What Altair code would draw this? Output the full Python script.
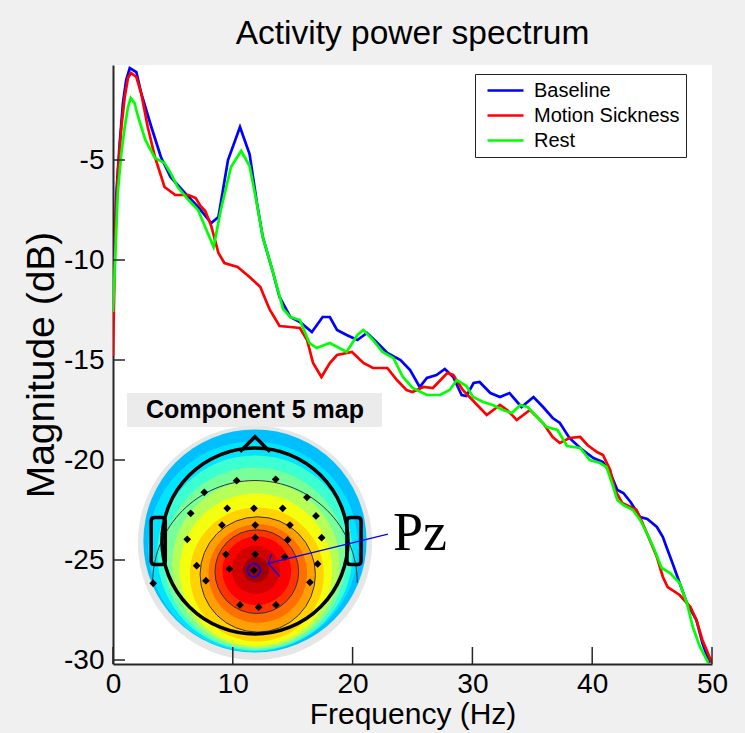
import altair as alt
import pandas as pd

# ---------------- chart values ----------------
TITLE = "Activity power spectrum"
X_TITLE = "Frequency (Hz)"
Y_TITLE = "Magnitude (dB)"
SERIES = ["Baseline", "Motion Sickness", "Rest"]
SERIES_COLORS = ["#0000ff", "#ff0000", "#00ff00"]
X_TICKS = [0, 10, 20, 30, 40, 50]
Y_TICKS = [-30, -25, -20, -15, -10, -5]

baseline_hz = [0, 0.28, 0.56, 0.83, 1.1, 1.4, 1.95, 2.35, 3.2, 4.0, 4.8, 6.0, 7.1, 8.2, 8.8,
               9.6, 10.6, 11.4, 12.0, 12.5, 13.3, 13.9, 14.8, 15.6, 16.6, 17.5, 18.1, 18.7,
               19.5, 20.4, 21.2, 22.0, 22.9, 24.0, 24.8, 25.6, 26.2, 27.0, 27.7, 28.4, 29.1,
               29.5, 30.1, 30.6, 31.5, 32.3, 33.1, 34.1, 35.1, 35.9, 36.7, 37.3, 38.1, 39.0,
               40.1, 40.9, 41.5, 42.1, 42.6, 43.2, 44.0, 44.6, 45.4, 45.9, 46.2, 46.7, 47.3,
               47.9, 48.7, 49.2, 49.8]
baseline_db = [-12.0, -6.65, -4.15, -2.15, -1.0, -0.4, -0.6, -1.65, -3.35, -4.85, -5.85, -6.65,
               -7.35, -8.15, -7.85, -5.0, -3.35, -4.7, -7.1, -8.85, -10.5, -11.85, -12.85, -13.1,
               -13.6, -12.85, -12.85, -13.5, -13.75, -14.0, -13.65, -14.1, -14.65, -15.0, -15.5,
               -16.35, -15.9, -15.75, -15.45, -15.85, -16.75, -16.8, -16.15, -16.1, -16.65,
               -16.85, -16.65, -17.35, -16.85, -17.35, -17.9, -18.15, -18.9, -19.4, -19.9,
               -20.1, -20.65, -21.5, -21.65, -22.1, -22.85, -22.95, -23.35, -23.85, -24.35,
               -25.15, -26.15, -27.15, -28.0, -29.15, -30.15]

motion_hz = [0, 0.2, 0.42, 0.7, 0.98, 1.25, 1.5, 1.95, 2.35, 2.9, 3.5, 4.3, 5.2, 6.3, 6.9, 7.3,
             7.7, 8.2, 8.8, 9.3, 10.4, 11.4, 12.3, 12.85, 13.1, 13.9, 14.8, 15.6, 16.2, 16.7,
             17.4, 18.1, 18.7, 19.95, 20.9, 21.7, 22.9, 23.7, 24.5, 25.0, 25.9, 26.7, 27.9,
             28.4, 29.2, 30.4, 31.2, 32.3, 32.9, 33.7, 34.8, 35.9, 36.7, 37.3, 38.1, 39.0,
             39.6, 40.4, 40.9, 41.5, 41.9, 42.5, 43.2, 43.7, 44.2, 44.7, 45.4, 45.9, 46.3,
             47.3, 48.2, 48.7, 49.2, 50.0]
motion_db = [-14.8, -8.35, -5.5, -3.35, -1.85, -0.9, -0.65, -0.85, -1.65, -3.35, -4.85, -6.35,
             -6.75, -6.75, -6.9, -7.3, -7.55, -8.3, -9.65, -10.15, -10.35, -10.85, -11.35,
             -12.15, -12.5, -13.3, -13.35, -13.4, -14.0, -15.15, -15.85, -15.15, -14.75, -14.6,
             -15.15, -15.4, -15.4, -16.0, -16.5, -16.6, -16.35, -16.4, -15.65, -15.75, -16.5,
             -17.25, -17.75, -17.25, -17.5, -18.0, -17.5, -18.15, -18.85, -19.15, -18.9,
             -18.85, -19.25, -19.6, -19.75, -20.5, -21.5, -22.15, -22.35, -22.5, -23.15,
             -23.85, -24.85, -25.85, -26.35, -26.75, -27.35, -28.0, -29.0, -30.15]

rest_hz = [0, 0.4, 0.7, 0.98, 1.25, 1.48, 1.8, 2.1, 2.7, 3.5, 4.3, 4.8, 5.4, 6.3, 7.1, 7.8, 8.4,
           9.0, 9.85, 10.7, 11.4, 12.0, 12.5, 13.3, 14.2, 14.8, 15.6, 16.4, 17.0, 18.1, 19.5,
           20.4, 20.9, 21.7, 22.5, 23.4, 24.2, 25.0, 26.2, 27.3, 28.1, 28.7, 29.5, 30.05,
           30.9, 31.7, 32.55, 33.3, 34.0, 34.6, 35.4, 36.2, 37.1, 37.9, 39.0, 39.8, 40.65,
           41.2, 41.65, 42.1, 42.6, 43.4, 44.0, 44.6, 45.1, 45.8, 46.5, 47.3, 47.9, 48.4,
           49.0, 49.7]
rest_db = [-12.6, -6.65, -4.65, -3.35, -2.35, -1.9, -2.15, -2.85, -4.0, -4.9, -5.15, -5.65,
           -6.35, -7.0, -7.5, -8.5, -9.35, -7.5, -5.35, -4.55, -5.3, -7.15, -8.85, -10.5,
           -12.45, -12.85, -13.0, -14.15, -14.4, -14.15, -14.6, -13.75, -13.5, -14.0, -14.6,
           -14.9, -15.85, -16.4, -16.75, -16.75, -16.5, -16.0, -16.3, -16.85, -17.1, -17.25,
           -17.5, -17.65, -17.25, -17.35, -17.85, -18.35, -18.5, -19.3, -19.4, -20.0, -20.15,
           -20.35, -21.15, -22.0, -22.25, -22.5, -23.0, -23.7, -24.35, -25.4, -25.65, -26.15,
           -27.15, -28.35, -29.35, -30.15]

# ---- inset "Component 5 map" (scalp map image), in head-radius units ----
INSET_TITLE = "Component 5 map"
INSET_LABEL = "Pz"
# colour bands of the scalp map: offset (dx, dy; dy positive = down), radius, colour
map_dx = [0, 0, -0.02, 0, 0, 0.01, 0.01, 0.02, 0.03, 0.03, 0.02, 0.02, 0.01, 0.01]
map_dy = [0.02, 0, 0.06, 0.13, 0.19, 0.25, 0.31, 0.36, 0.36, 0.35, 0.33, 0.32, 0.31, 0.31]
map_r = [1.26, 1.20, 1.13, 1.05, 0.98, 0.90, 0.82, 0.72, 0.62, 0.53, 0.45, 0.37, 0.26, 0.14]
map_col = ["#e6e6e6", "#00bfff", "#00e4ff", "#3cffd2", "#78ff9a", "#b4ff5a", "#f4ff10",
           "#ffd200", "#ffa000", "#ff6e00", "#ff3200", "#ff0000", "#d20000", "#a00000"]
# electrode positions
elec_dx = [-0.197, 0.223, -0.545, 0.559, -0.691, -0.298, -0.011, 0.298, 0.656, -0.355, 0.003,
           0.376, -0.728, 0.003, 0.352, 0.717, -0.312, 0.003, 0.32, -0.627, -0.276, -0.011,
           0.674, -0.527, 0.591, -1.094, -0.161, 0.040, 0.226]
elec_dy = [-0.648, -0.663, -0.524, -0.470, -0.298, -0.352, -0.352, -0.352, -0.269, -0.172,
           -0.172, -0.172, -0.018, -0.035, -0.011, -0.035, 0.143, 0.143, 0.17, 0.266, 0.301,
           0.315, 0.247, 0.427, 0.444, 0.455, 0.688, 0.712, 0.688]
PZ_INDEX = 21

# ---------------- geometry / style ----------------
FONT = "Liberation Sans"
W, H = 599, 599
X_DOM = [0, 50]
Y_DOM = [-30.2, -0.25]
PX_PER_HZ = W / (X_DOM[1] - X_DOM[0])
PX_PER_DB = H / (Y_DOM[1] - Y_DOM[0])
HEAD_HZ, HEAD_DB, HEAD_R = 11.85, -24.05, 93.0


def hz(u):
    return HEAD_HZ + u * HEAD_R / PX_PER_HZ


def db(v):
    return HEAD_DB - v * HEAD_R / PX_PER_DB


xs = alt.Scale(domain=X_DOM, nice=False, zero=False)
ys = alt.Scale(domain=Y_DOM, nice=False, zero=False)

AX_X = alt.Axis(values=X_TICKS, title=X_TITLE, tickSize=0, grid=False,
                labelFontSize=28, labelPadding=6, labelFlush=False,
                titleFontSize=30, titlePadding=1, titleFontWeight="normal",
                labelFont=FONT, titleFont=FONT, labelColor="black",
                titleColor="black", domainColor="#262626", domainWidth=2)
AX_Y = alt.Axis(values=Y_TICKS, title=Y_TITLE, tickSize=0, grid=False,
                labelFontSize=28, labelPadding=9, labelFlush=False,
                labelExpr="'' + datum.value",
                titleFontSize=39, titlePadding=2, titleFontWeight="normal",
                labelFont=FONT, titleFont=FONT, labelColor="black",
                titleColor="black", domainColor="#262626", domainWidth=2)


def X(field):
    return alt.X(field, type="quantitative", scale=xs, axis=AX_X)


def Y(field):
    return alt.Y(field, type="quantitative", scale=ys, axis=AX_Y)


# ---------------- tables ----------------
rows = []
for name, fs, ds in [(SERIES[0], baseline_hz, baseline_db),
                     (SERIES[1], motion_hz, motion_db),
                     (SERIES[2], rest_hz, rest_db)]:
    for i, (f, d) in enumerate(zip(fs, ds)):
        rows.append({"series": name, "f": f, "db": d, "i": i})
lines_df = pd.DataFrame(rows)

map_df = pd.DataFrame({
    "f": [hz(a) for a in map_dx],
    "db": [db(b) for b in map_dy],
    "size": [(2 * r * HEAD_R) ** 2 for r in map_r],
    "col": map_col,
    "order": list(range(len(map_r))),
})
elec_df = pd.DataFrame({"f": [hz(a) for a in elec_dx], "db": [db(b) for b in elec_dy]})
center_df = pd.DataFrame({"f": [hz(0)], "db": [db(0)]})

# ---------------- layers ----------------
lines = alt.Chart(lines_df).mark_line(strokeWidth=2.7, clip=True).encode(
    x=X("f"),
    y=Y("db"),
    color=alt.Color("series:N", scale=alt.Scale(domain=SERIES, range=SERIES_COLORS),
                    legend=alt.Legend(title=None, orient="none", legendX=362, legendY=9,
                                      symbolType="M-2,0L2,0", symbolSize=324, symbolOffset=14,
                                      symbolStrokeWidth=2.7, labelFontSize=20, labelFont=FONT,
                                      labelColor="black", labelOffset=18, padding=6,
                                      rowPadding=4, strokeColor="#222222", fillColor="white")),
    order="i:Q",
)

box = alt.Chart(pd.DataFrame({"f": [hz(-1.376)], "f2": [hz(1.366)],
                              "db": [db(-1.591)], "db2": [db(-1.226)]})).mark_rect(
    color="#ebebeb").encode(x=X("f"), x2="f2", y=Y("db"), y2="db2")

box_text = alt.Chart(pd.DataFrame({"f": [hz(0.0)], "db": [db(-1.41)], "t": [INSET_TITLE]})).mark_text(
    font=FONT, fontSize=25, fontWeight="bold", color="black", align="center", baseline="middle"
).encode(x=X("f"), y=Y("db"), text="t:N")

disc = alt.Chart(map_df).mark_point(shape="circle", filled=True, opacity=1, strokeWidth=0).encode(
    x=X("f"), y=Y("db"),
    size=alt.Size("size:Q", scale=None, legend=None),
    fill=alt.Fill("col:N", scale=None, legend=None),
    order=alt.Order("order:Q"))

contour_df = pd.DataFrame({"f": [hz(0.03), hz(0.02)], "db": [db(0.36), db(0.33)],
                           "size": [(2 * 0.62 * HEAD_R) ** 2, (2 * 0.45 * HEAD_R) ** 2]})
contours = alt.Chart(contour_df).mark_point(shape="circle", filled=False, color="#333333",
                                            strokeWidth=1, opacity=1).encode(
    x=X("f"), y=Y("db"), size=alt.Size("size:Q", scale=None, legend=None))

# large upper contour: a half-circle outline
big_contour = alt.Chart(pd.DataFrame({"f": [hz(0)], "db": [db(0.45)]})).mark_point(
    shape="M-1,0A1,1 0 0 1 1,0", filled=False, color="#333333", strokeWidth=1, opacity=1,
    size=(2 * 1.1 * HEAD_R) ** 2
).encode(x=X("f"), y=Y("db"))

head = alt.Chart(center_df).mark_point(shape="circle", filled=False, color="black", strokeWidth=3.5,
                                       opacity=1, size=(2 * HEAD_R) ** 2).encode(
    x=X("f"), y=Y("db"))

nose = alt.Chart(pd.DataFrame({"f": [hz(0)], "db": [db(-1.04)]})).mark_point(
    shape="M-1,0.5L0,-0.5L1,0.5", filled=False, color="black", strokeWidth=3.5, opacity=1, size=900
).encode(x=X("f"), y=Y("db"))

EAR_PATH = ("M-0.3,-0.85Q-0.3,-1 -0.15,-1L0.15,-1Q0.3,-1 0.3,-0.85L0.3,0.85"
            "Q0.3,1 0.15,1L-0.15,1Q-0.3,1 -0.3,0.85Z")
ears = alt.Chart(pd.DataFrame({"f": [hz(-1.04), hz(1.065)], "db": [db(0), db(0)]})).mark_point(
    shape=EAR_PATH, filled=False, color="black", strokeWidth=3.5, opacity=1, size=2209
).encode(x=X("f"), y=Y("db"))

electrodes = alt.Chart(elec_df).mark_point(shape="diamond", filled=True, color="black",
                                           opacity=1, size=60).encode(
    x=X("f"), y=Y("db"))

pz_ring = alt.Chart(elec_df.iloc[[PZ_INDEX]]).mark_point(
    shape="circle", filled=False, color="#0000ff", strokeWidth=1.5, opacity=1, size=169
).encode(x=X("f"), y=Y("db"))

arrow_df = pd.DataFrame({
    "f": [hz(1.43), hz(0.143), hz(0.143)],
    "db": [db(-0.075), db(0.240), db(0.240)],
    "f2": [hz(0.143), hz(0.18), hz(0.269)],
    "db2": [db(0.240), db(0.14), db(0.384)],
})
arrow = alt.Chart(arrow_df).mark_rule(color="#0000ff", strokeWidth=1.3).encode(
    x=X("f"), y=Y("db"), x2="f2", y2="db2")

pz_text = alt.Chart(pd.DataFrame({"f": [hz(1.484)], "db": [db(0.097)], "t": [INSET_LABEL]})).mark_text(
    font="Liberation Serif", fontSize=54, color="black", align="left", baseline="alphabetic"
).encode(x=X("f"), y=Y("db"), text="t:N")

xticks = alt.Chart(pd.DataFrame({"v": X_TICKS})).mark_rule(color="#262626", strokeWidth=1.5).encode(
    x=X("v"), y=alt.value(H), y2=alt.value(H - 17))
yticks = alt.Chart(pd.DataFrame({"v": Y_TICKS})).mark_rule(color="#262626", strokeWidth=1.5).encode(
    y=Y("v"), x=alt.value(0), x2=alt.value(12))

chart = alt.layer(
    lines, box, box_text, disc, contours, big_contour, head, nose, ears, electrodes, pz_ring,
    arrow, pz_text, xticks, yticks
).properties(
    width=W, height=H,
    title=alt.TitleParams(TITLE, fontSize=33.5, font=FONT, fontWeight="normal", color="black",
                          anchor="middle", offset=14),
    autosize=alt.AutoSizeParams(type="none"),
    padding={"left": 113, "top": 65, "right": 33, "bottom": 69},
).configure(background="#f0f0f0").configure_view(fill="white", strokeWidth=0)

chart.save("out.html", embed_options={"renderer": "svg", "actions": False})
